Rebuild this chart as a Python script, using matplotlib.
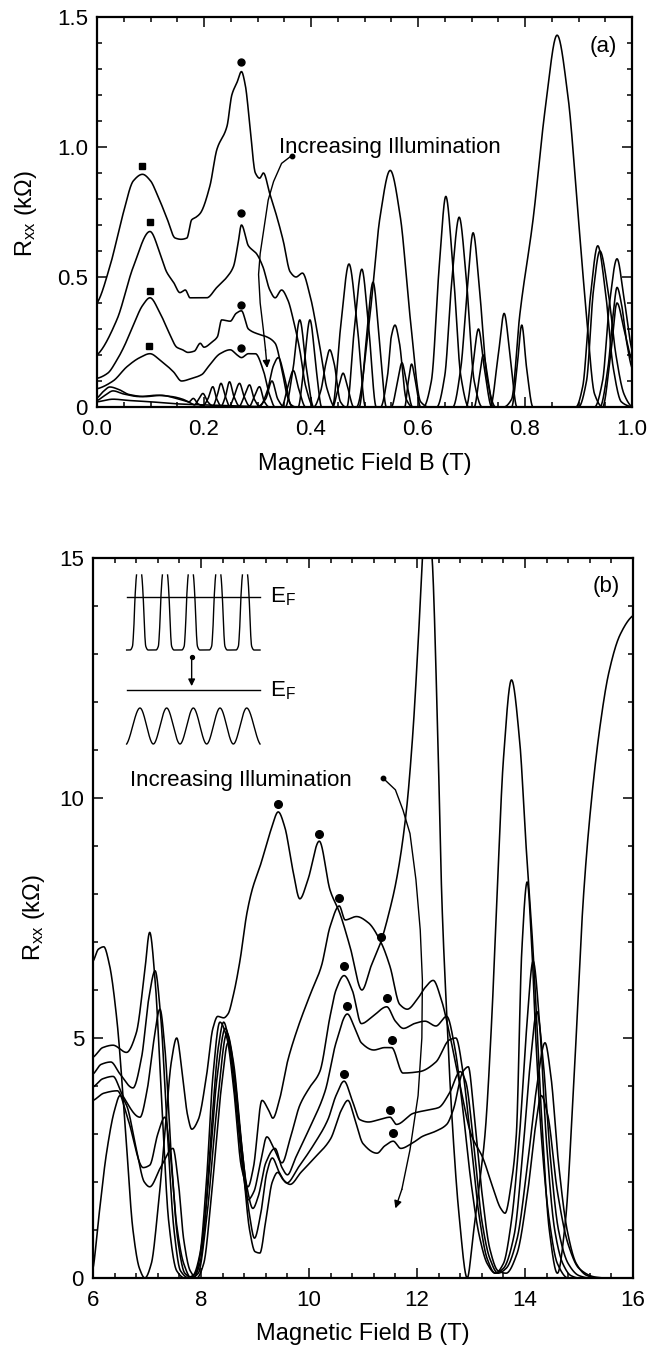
import numpy as np
import matplotlib
matplotlib.use("Agg")
import matplotlib.pyplot as plt
from matplotlib.ticker import MultipleLocator, FixedLocator, FixedFormatter

plt.rcParams['font.family'] = ['Liberation Sans', 'DejaVu Sans']
plt.rcParams['mathtext.fontset'] = 'custom'
plt.rcParams['mathtext.rm'] = 'Liberation Sans'
plt.rcParams['mathtext.it'] = 'Liberation Sans:italic'

# ---------------- DATA: panel (a)  (B in T, Rxx in kOhm) ----------------
a_curve1 = [(0.0,0.40),(0.024,0.54),(0.049,0.745),(0.068,0.87),(0.085,0.895),(0.1,0.87),(0.112,0.82),(0.13,0.73),
            (0.146,0.65),(0.157,0.645),(0.168,0.65),(0.177,0.72),(0.185,0.73),(0.193,0.745),(0.211,0.85),(0.224,0.99),
            (0.243,1.08),(0.252,1.2),(0.262,1.25),(0.27,1.29),(0.277,1.24),(0.285,1.1),(0.296,0.9),(0.304,0.88),
            (0.311,0.9),(0.323,0.82),(0.335,0.74),(0.348,0.64),(0.361,0.52),(0.372,0.50),(0.384,0.515),(0.398,0.43),
            (0.415,0.25),(0.43,0.07),(0.445,0.0),(0.485,0.0),(0.51,0.35),(0.529,0.73),(0.548,0.91),(0.567,0.73),
            (0.585,0.35),(0.605,0.02),(0.62,0.0),(0.76,0.0),(0.775,0.03),(0.79,0.35),(0.815,0.72),(0.838,1.15),
            (0.86,1.43),(0.88,1.2),(0.90,0.72),(0.915,0.35),(0.93,0.05),(0.945,0.0),(1.0,0.0)]
a_curve2 = [(0.0,0.20),(0.037,0.335),(0.068,0.54),(0.099,0.675),(0.118,0.59),(0.13,0.52),(0.143,0.48),(0.155,0.44),
            (0.165,0.45),(0.174,0.42),(0.19,0.42),(0.205,0.42),(0.224,0.46),(0.243,0.50),(0.255,0.54),(0.263,0.62),
            (0.27,0.70),(0.283,0.62),(0.298,0.59),(0.31,0.54),(0.323,0.45),(0.333,0.42),(0.345,0.45),(0.357,0.41),
            (0.367,0.335),(0.379,0.22),(0.39,0.08),(0.405,0.0),(0.44,0.0),(0.455,0.3),(0.471,0.55),(0.487,0.3),
            (0.502,0.0),(0.61,0.0),(0.625,0.1),(0.64,0.55),(0.652,0.81),(0.665,0.55),(0.68,0.12),(0.695,0.0),
            (0.895,0.0),(0.908,0.08),(0.922,0.42),(0.936,0.62),(0.95,0.45),(0.965,0.15),(0.98,0.02),(1.0,0.0)]
a_curve3 = [(0.0,0.11),(0.02,0.13),(0.037,0.18),(0.05,0.23),(0.067,0.31),(0.085,0.39),(0.099,0.42),(0.118,0.36),
            (0.136,0.28),(0.149,0.23),(0.16,0.22),(0.17,0.21),(0.182,0.215),(0.193,0.245),(0.2,0.23),(0.215,0.25),
            (0.225,0.27),(0.233,0.335),(0.249,0.33),(0.26,0.36),(0.27,0.37),(0.283,0.30),(0.302,0.28),(0.317,0.27),
            (0.333,0.245),(0.345,0.15),(0.356,0.04),(0.366,0.0),(0.376,0.0),(0.386,0.14),(0.398,0.335),(0.41,0.14),
            (0.42,0.0),(0.467,0.0),(0.481,0.3),(0.495,0.53),(0.508,0.3),(0.522,0.0),(0.635,0.0),(0.65,0.12),
            (0.663,0.48),(0.677,0.73),(0.69,0.5),(0.705,0.1),(0.72,0.0),(0.93,0.0),(0.945,0.1),(0.958,0.4),
            (0.972,0.57),(0.985,0.42),(1.0,0.22)]
a_curve4 = [(0.0,0.07),(0.03,0.10),(0.056,0.155),(0.08,0.19),(0.099,0.205),(0.118,0.18),(0.143,0.135),(0.158,0.10),
            (0.177,0.11),(0.196,0.125),(0.208,0.155),(0.23,0.205),(0.249,0.22),(0.262,0.20),(0.27,0.19),(0.283,0.205),
            (0.296,0.205),(0.311,0.14),(0.322,0.05),(0.333,0.0),(0.352,0.0),(0.366,0.14),(0.379,0.335),(0.392,0.14),
            (0.405,0.0),(0.49,0.0),(0.503,0.25),(0.516,0.48),(0.528,0.25),(0.541,0.0),(0.665,0.0),(0.68,0.15),
            (0.692,0.45),(0.703,0.67),(0.715,0.45),(0.73,0.1),(0.745,0.0),(0.9,0.0),(0.915,0.1),(0.928,0.45),
            (0.94,0.60),(0.955,0.45),(0.97,0.2),(0.985,0.05),(1.0,0.0)]
a_curve5 = [(0.0,0.035),(0.012,0.06),(0.024,0.077),(0.04,0.068),(0.06,0.048),(0.09,0.04),(0.12,0.045),(0.145,0.035),
            (0.162,0.025),(0.172,0.02),(0.18,0.033),(0.189,0.012),(0.198,0.005),(0.207,0.03),(0.2165,0.078),(0.224,0.03),
            (0.232,0.004),(0.24,0.04),(0.2477,0.097),(0.256,0.04),(0.266,0.004),(0.275,0.04),(0.2851,0.085),(0.294,0.03),
            (0.304,0.003),(0.318,0.06),(0.33,0.16),(0.339,0.19),(0.35,0.12),(0.362,0.01),(0.372,0.0),(0.405,0.0),
            (0.418,0.06),(0.428,0.17),(0.435,0.22),(0.443,0.17),(0.455,0.02),(0.465,0.0),(0.53,0.0),(0.543,0.12),
            (0.55,0.27),(0.557,0.315),(0.565,0.25),(0.578,0.03),(0.59,0.0),(0.69,0.0),(0.702,0.15),(0.713,0.30),
            (0.724,0.15),(0.738,0.0),(0.94,0.0),(0.955,0.15),(0.965,0.36),(0.972,0.46),(0.98,0.4),(0.99,0.25),(1.0,0.15)]
a_curve6 = [(0.0,0.025),(0.015,0.045),(0.03,0.062),(0.05,0.05),(0.08,0.04),(0.11,0.045),(0.14,0.04),(0.16,0.03),
            (0.175,0.015),(0.182,0.008),(0.19,0.03),(0.198,0.052),(0.207,0.02),(0.2165,0.004),(0.224,0.04),(0.2318,0.091),
            (0.24,0.04),(0.2477,0.004),(0.256,0.04),(0.2664,0.091),(0.275,0.04),(0.2851,0.004),(0.294,0.04),(0.3037,0.078),
            (0.313,0.02),(0.322,0.0),(0.345,0.0),(0.357,0.08),(0.367,0.14),(0.377,0.07),(0.39,0.0),(0.44,0.0),
            (0.452,0.08),(0.46,0.13),(0.468,0.08),(0.48,0.0),(0.55,0.0),(0.562,0.1),(0.57,0.17),(0.578,0.1),(0.59,0.0),
            (0.735,0.0),(0.75,0.2),(0.761,0.36),(0.772,0.2),(0.785,0.0),(0.945,0.0),(0.96,0.2),(0.972,0.40),(0.985,0.3),(1.0,0.18)]
a_curve7 = [(0.0,0.02),(0.03,0.03),(0.06,0.025),(0.1,0.02),(0.15,0.012),(0.2,0.008),(0.25,0.005),(0.3,0.002),
            (0.315,0.03),(0.327,0.10),(0.338,0.03),(0.35,0.0),(0.575,0.0),(0.582,0.1),(0.588,0.165),(0.595,0.1),
            (0.605,0.0),(0.705,0.0),(0.715,0.12),(0.722,0.20),(0.73,0.12),(0.74,0.0),(0.775,0.0),(0.785,0.15),
            (0.794,0.315),(0.803,0.15),(0.815,0.0),(1.0,0.0)]
a_curves = [a_curve1, a_curve2, a_curve3, a_curve4, a_curve5, a_curve6, a_curve7]

a_square_B = [0.085, 0.099, 0.099, 0.098]
a_square_R = [0.928, 0.713, 0.445, 0.236]
a_circle_B = [0.270, 0.270, 0.269, 0.269]
a_circle_R = [1.328, 0.747, 0.391, 0.228]

# ---------------- DATA: panel (b) ----------------
b_curve1 = [(6.0,6.6),(6.1,6.85),(6.2,6.9),(6.3,6.55),(6.44,5.4),(6.6,3.1),(6.74,1.0),(6.86,0.2),(6.96,0.0),(7.08,0.3),
            (7.2,1.4),(7.33,3.0),(7.45,4.5),(7.55,5.0),(7.65,4.3),(7.75,3.4),(7.83,3.1),(7.95,3.3),(8.1,4.2),(8.22,5.2),
            (8.31,5.45),(8.42,5.42),(8.5,5.5),(8.6,5.9),(8.72,6.6),(8.85,7.6),(8.95,8.1),(9.1,8.6),(9.3,9.35),(9.43,9.71),
            (9.55,9.4),(9.7,8.5),(9.83,7.9),(9.98,8.3),(10.19,9.1),(10.39,8.08),(10.57,7.6),(10.76,6.9),(10.98,6.0),
            (11.15,6.5),(11.33,7.0),(11.48,7.6),(11.62,8.3),(11.8,9.7),(11.92,11.3),(12.02,13.2),(12.12,15.3),(12.2,16.0),
            (12.28,15.0),(12.38,11.5),(12.46,7.9),(12.55,5.5),(12.65,3.3),(12.78,1.3),(12.93,0.0),(13.04,0.9),(13.15,1.9),
            (13.26,3.0),(13.38,5.3),(13.48,7.9),(13.6,10.8),(13.75,12.46),(13.9,11.2),(14.02,9.0),(14.15,6.8),(14.3,3.5),
            (14.45,1.0),(14.6,0.1),(14.75,1.2),(14.9,4.0),(15.08,7.9),(15.2,9.6),(15.39,11.5),(15.55,12.6),(15.76,13.4),(16.0,13.8)]
b_curve2 = [(6.0,4.6),(6.18,4.8),(6.37,4.85),(6.62,4.7),(6.8,5.1),(6.95,6.3),(7.05,7.2),(7.15,6.2),(7.28,3.5),(7.4,1.2),
            (7.55,0.15),(7.7,0.0),(7.85,0.05),(7.98,0.5),(8.1,2.0),(8.22,4.2),(8.35,5.33),(8.48,5.0),(8.6,4.0),(8.75,2.3),
            (8.87,1.9),(8.97,2.3),(9.13,3.7),(9.25,3.5),(9.33,3.33),(9.45,3.7),(9.6,4.5),(9.78,5.17),(10.02,5.9),(10.23,6.5),
            (10.39,7.32),(10.56,7.75),(10.67,7.46),(10.88,7.53),(11.1,7.4),(11.33,7.0),(11.5,6.49),(11.68,5.7),(11.82,5.6),
            (12.0,5.8),(12.15,6.05),(12.3,6.2),(12.45,5.8),(12.6,5.1),(12.8,4.0),(13.0,3.0),(13.22,2.5),(13.4,1.9),
            (13.55,1.45),(13.63,1.35),(13.75,2.0),(13.84,3.0),(13.94,6.8),(14.04,8.25),(14.13,6.8),(14.2,5.0),(14.3,3.0),
            (14.45,1.2),(14.6,0.3),(14.8,0.0),(16.0,0.0)]
b_curve3 = [(6.0,4.25),(6.15,4.45),(6.33,4.5),(6.5,4.25),(6.74,3.96),(6.9,4.6),(7.03,5.8),(7.15,6.4),(7.25,5.5),(7.38,3.0),
            (7.5,1.0),(7.62,0.15),(7.78,0.0),(7.9,0.1),(8.05,1.0),(8.2,3.2),(8.32,4.8),(8.42,5.33),(8.52,4.9),(8.65,3.6),
            (8.78,2.2),(8.87,1.63),(8.98,1.8),(9.1,2.4),(9.22,2.94),(9.35,2.7),(9.5,2.4),(9.65,2.9),(9.83,3.6),(10.0,3.95),
            (10.2,4.3),(10.39,5.45),(10.5,6.0),(10.65,6.3),(10.8,6.0),(10.97,5.3),(11.18,5.45),(11.44,5.65),(11.6,5.35),
            (11.75,5.2),(11.95,5.3),(12.15,5.35),(12.35,5.25),(12.55,5.45),(12.7,4.8),(12.85,3.5),(13.0,2.0),(13.15,0.9),
            (13.3,0.3),(13.45,0.1),(13.6,0.3),(13.75,1.2),(13.9,3.0),(14.03,5.2),(14.15,6.6),(14.27,5.3),(14.4,2.8),
            (14.55,1.0),(14.7,0.3),(14.85,0.05),(15.0,0.0),(16.0,0.0)]
b_curve4 = [(6.0,3.98),(6.18,4.15),(6.37,4.2),(6.55,3.8),(6.87,3.35),(7.0,3.9),(7.12,4.9),(7.24,5.6),(7.33,4.8),(7.45,2.5),
            (7.57,0.8),(7.7,0.1),(7.85,0.0),(7.98,0.3),(8.12,1.8),(8.3,4.2),(8.45,5.2),(8.55,4.8),(8.7,3.3),(8.85,1.9),
            (8.96,1.45),(9.06,1.7),(9.2,2.4),(9.37,2.7),(9.5,2.3),(9.6,2.15),(9.75,2.5),(10.0,3.1),(10.3,3.9),(10.5,4.9),
            (10.71,5.5),(10.85,5.2),(10.97,4.9),(11.2,4.75),(11.4,4.8),(11.53,4.8),(11.74,4.27),(12.05,4.3),(12.35,4.5),
            (12.6,4.96),(12.72,5.0),(12.85,4.3),(13.0,2.8),(13.15,1.3),(13.3,0.4),(13.45,0.1),(13.6,0.2),(13.8,0.9),
            (13.95,2.5),(14.1,4.5),(14.22,5.55),(14.33,4.6),(14.47,2.5),(14.62,1.0),(14.8,0.3),(15.0,0.05),(15.2,0.0),(16.0,0.0)]
b_curve5 = [(6.0,3.7),(6.2,3.85),(6.45,3.9),(6.65,3.3),(6.93,2.3),(7.05,2.35),(7.2,3.0),(7.33,3.35),(7.43,2.6),(7.55,1.1),
            (7.68,0.3),(7.82,0.0),(7.95,0.1),(8.1,1.2),(8.3,3.6),(8.48,5.1),(8.6,4.5),(8.75,2.8),(8.9,1.3),(8.99,0.83),
            (9.1,1.3),(9.22,2.2),(9.32,2.5),(9.45,2.2),(9.59,1.98),(9.8,2.3),(10.1,2.8),(10.35,3.3),(10.5,3.8),(10.65,4.1),
            (10.8,3.7),(10.94,3.3),(11.1,3.25),(11.3,3.3),(11.5,3.35),(11.62,3.2),(11.93,3.43),(12.2,3.5),(12.4,3.55),
            (12.6,3.85),(12.8,4.3),(12.9,4.1),(13.05,2.8),(13.2,1.2),(13.35,0.4),(13.5,0.1),(13.65,0.2),(13.85,0.8),
            (14.05,2.4),(14.22,4.0),(14.37,4.9),(14.48,4.2),(14.62,2.4),(14.78,1.0),(14.95,0.3),(15.15,0.05),(15.35,0.0),(16.0,0.0)]
b_curve6 = [(6.0,0.2),(6.1,1.2),(6.25,2.6),(6.4,3.5),(6.5,3.8),(6.62,3.6),(6.8,2.7),(6.95,2.0),(7.05,1.9),(7.25,2.3),
            (7.48,2.7),(7.58,2.0),(7.68,0.8),(7.8,0.15),(7.92,0.0),(8.05,0.3),(8.2,1.8),(8.38,4.0),(8.5,4.9),(8.62,4.2),
            (8.78,2.3),(8.9,1.0),(9.0,0.55),(9.09,0.52),(9.2,1.2),(9.32,2.0),(9.42,2.2),(9.52,2.05),(9.65,1.95),(9.85,2.2),
            (10.1,2.5),(10.4,2.9),(10.6,3.5),(10.72,3.7),(10.85,3.3),(11.0,2.8),(11.26,2.6),(11.4,2.75),(11.56,2.85),
            (11.7,2.7),(11.9,2.8),(12.1,2.95),(12.35,3.06),(12.55,3.2),(12.67,3.5),(12.85,4.3),(12.95,4.4),(13.05,3.5),
            (13.2,1.8),(13.35,0.6),(13.5,0.15),(13.65,0.1),(13.85,0.5),(14.05,1.8),(14.2,3.2),(14.3,3.8),(14.42,3.4),
            (14.6,1.8),(14.8,0.7),(15.0,0.2),(15.3,0.02),(15.5,0.0),(16.0,0.0)]
b_curves = [b_curve1, b_curve2, b_curve3, b_curve4, b_curve5, b_curve6]

b_circle_B = [9.43, 10.19, 10.56, 11.34, 10.65, 11.44, 10.71, 11.53, 10.65, 11.5, 11.56]
b_circle_R = [9.875, 9.26, 7.91, 7.11, 6.49, 5.83, 5.67, 4.96, 4.25, 3.5, 3.03]

a_xticks = [0.0, 0.2, 0.4, 0.6, 0.8, 1.0]
a_xlabels = ['0.0', '0.2', '0.4', '0.6', '0.8', '1.0']
a_yticks = [0, 0.5, 1.0, 1.5]
a_ylabels = ['0', '0.5', '1.0', '1.5']
b_xticks = [6, 8, 10, 12, 14, 16]
b_xlabels = ['6', '8', '10', '12', '14', '16']
b_yticks = [0, 5, 10, 15]
b_ylabels = ['0', '5', '10', '15']

# schematic inset (panel b, drawn in data coords)
sch_peak_B = [6.854, 7.333, 7.811, 8.32, 8.815]
sch_wave_B = [6.623, 6.87, 7.117, 7.364, 7.611, 7.858, 8.105, 8.352, 8.599, 8.846, 9.093]
sch_wave_R = [11.125, 11.875, 11.125, 11.875, 11.125, 11.875, 11.125, 11.875, 11.125, 11.875, 11.125]


def pchip(pts, n=4000):
    x, y = np.asarray(pts, float).T
    h = np.diff(x)
    d = np.diff(y) / h
    m = np.zeros_like(x)
    for k in range(1, len(x) - 1):
        if d[k - 1] * d[k] > 0:
            w1 = 2 * h[k] + h[k - 1]
            w2 = h[k] + 2 * h[k - 1]
            m[k] = (w1 + w2) / (w1 / d[k - 1] + w2 / d[k])
    m[0] = d[0] * 0.5
    m[-1] = d[-1] * 0.5
    xs = np.linspace(x[0], x[-1], n)
    i = np.clip(np.searchsorted(x, xs) - 1, 0, len(x) - 2)
    t = (xs - x[i]) / h[i]
    h00 = 2 * t**3 - 3 * t**2 + 1
    h10 = t**3 - 2 * t**2 + t
    h01 = -2 * t**3 + 3 * t**2
    h11 = t**3 - t**2
    ys = h00 * y[i] + h10 * h[i] * m[i] + h01 * y[i + 1] + h11 * h[i] * m[i + 1]
    return xs, ys


LW = 1.15
TICK_FS = 16
LABEL_FS = 17
NOTE_FS = 16
fig = plt.figure(figsize=(6.68, 13.53), dpi=100)
ax1 = fig.add_axes([97 / 668, 1 - 407 / 1353, 535 / 668, 390 / 1353])
ax2 = fig.add_axes([93 / 668, 1 - 1278 / 1353, 540 / 668, 720 / 1353])


def style(ax, xt, xl, yt, yl, xminor, yminor, xlim, ylim):
    ax.set_xlim(*xlim)
    ax.set_ylim(*ylim)
    ax.xaxis.set_major_locator(FixedLocator(xt))
    ax.xaxis.set_major_formatter(FixedFormatter(xl))
    ax.yaxis.set_major_locator(FixedLocator(yt))
    ax.yaxis.set_major_formatter(FixedFormatter(yl))
    ax.xaxis.set_minor_locator(MultipleLocator(xminor))
    ax.yaxis.set_minor_locator(MultipleLocator(yminor))
    for s in ax.spines.values():
        s.set_linewidth(1.6)
    ax.tick_params(which='both', direction='in', top=True, right=True, width=1.1, labelsize=TICK_FS)
    ax.tick_params(which='major', length=7)
    ax.tick_params(which='minor', length=3.8)
    ax.tick_params(axis='x', which='both', pad=8.5)
    ax.tick_params(axis='y', which='both', pad=6.5)


style(ax1, a_xticks, a_xlabels, a_yticks, a_ylabels, 0.05, 0.1, (0, 1), (0, 1.5))
style(ax2, b_xticks, b_xlabels, b_yticks, b_ylabels, 0.4, 1.0, (6, 16), (0, 15))

for c in a_curves:
    xs, ys = pchip(c)
    ax1.plot(xs, ys, color='k', lw=LW)
ax1.plot(a_square_B, a_square_R, ls='none', marker='s', ms=5, color='k')
ax1.plot(a_circle_B, a_circle_R, ls='none', marker='o', ms=5, color='k')

for c in b_curves:
    xs, ys = pchip(c)
    ax2.plot(xs, ys, color='k', lw=LW)
ax2.plot(b_circle_B, b_circle_R, ls='none', marker='o', ms=5.5, color='k')

# labels
ylab = r'R$_{\mathrm{xx}}$ (kΩ)'
ax1.set_ylabel(ylab, fontsize=LABEL_FS)
ax2.set_ylabel(ylab, fontsize=LABEL_FS)
ax1.yaxis.set_label_coords(-0.108, 0.497)
ax2.yaxis.set_label_coords(-0.086, 0.5)
ax1.set_xlabel('Magnetic Field B (T)', fontsize=LABEL_FS)
ax2.set_xlabel('Magnetic Field B (T)', fontsize=LABEL_FS)
ax1.xaxis.set_label_coords(0.5, -0.117)
ax2.xaxis.set_label_coords(0.5, -0.063)

ax1.text(0.946, 1.385, '(a)', fontsize=NOTE_FS, ha='center', va='center')
ax2.text(15.51, 14.4, '(b)', fontsize=NOTE_FS, ha='center', va='center')

# annotation arrows
ax1.text(0.34, 0.975, 'Increasing Illumination', fontsize=NOTE_FS, ha='left', va='baseline')
arr_a = [(0.364, 0.967), (0.345, 0.937), (0.33, 0.867), (0.32, 0.796), (0.305, 0.59), (0.302, 0.51),
         (0.305, 0.40), (0.311, 0.296), (0.315, 0.22)]
xa, ya = np.array(arr_a).T
ax1.plot(xa, ya, color='k', lw=1.0)
ax1.plot([xa[0]], [ya[0]], marker='o', ms=3.2, color='k')
ax1.annotate('', xy=(0.318, 0.15), xytext=(xa[-1], ya[-1]),
             arrowprops=dict(arrowstyle='-|>', color='k', lw=1.0, mutation_scale=11, shrinkA=0, shrinkB=0))

ax2.text(6.685, 10.25, 'Increasing Illumination', fontsize=NOTE_FS, ha='left', va='baseline')
arr_b = [(11.375, 10.41), (11.6, 10.17), (11.74, 9.75), (11.87, 9.26), (11.98, 8.3), (12.06, 7.25),
         (12.1, 6.2), (12.09, 5.0), (12.02, 3.8), (11.87, 2.67), (11.72, 1.85)]
xb, yb = np.array(arr_b).T
ax2.plot(xb, yb, color='k', lw=1.0)
ax2.plot([xb[0]], [yb[0]], marker='o', ms=3.2, color='k')
ax2.annotate('', xy=(11.6, 1.45), xytext=(xb[-1], yb[-1]),
             arrowprops=dict(arrowstyle='-|>', color='k', lw=1.0, mutation_scale=11, shrinkA=0, shrinkB=0))

# schematic inset
base, top = 13.083, 14.646
hgt = top - base
hw = 0.048
pieces = []
s = sch_peak_B[0] - hw
pieces.append([(6.623, base), (s - 0.12, base), (s - 0.075, base + 0.05 * hgt), (s - 0.05, base + 0.3 * hgt),
               (s - 0.028, base + 0.7 * hgt), (s, top)])
for k in range(len(sch_peak_B) - 1):
    l = sch_peak_B[k] + hw
    r = sch_peak_B[k + 1] - hw
    pieces.append([(l, top), (l + 0.028, base + 0.7 * hgt), (l + 0.05, base + 0.3 * hgt), (l + 0.075, base + 0.05 * hgt),
                   (l + 0.12, base), (r - 0.12, base), (r - 0.075, base + 0.05 * hgt), (r - 0.05, base + 0.3 * hgt),
                   (r - 0.028, base + 0.7 * hgt), (r, top)])
l = sch_peak_B[-1] + hw
pieces.append([(l, top), (l + 0.028, base + 0.7 * hgt), (l + 0.05, base + 0.3 * hgt), (l + 0.075, base + 0.05 * hgt),
               (l + 0.12, base), (9.093, base)])
for p in pieces:
    xs, ys = pchip(p, 400)
    ax2.plot(xs, ys, color='k', lw=1.0)
xs, ys = pchip(list(zip(sch_wave_B, sch_wave_R)), 800)
ax2.plot(xs, ys, color='k', lw=1.0)
ax2.plot([6.623, 9.093], [14.19, 14.19], color='k', lw=1.0)
ax2.plot([6.623, 9.093], [12.24, 12.24], color='k', lw=1.0)
ax2.text(9.28, 14.19, r'E$_{\mathrm{F}}$', fontsize=NOTE_FS, ha='left', va='center')
ax2.text(9.28, 12.24, r'E$_{\mathrm{F}}$', fontsize=NOTE_FS, ha='left', va='center')
ax2.plot([7.827], [12.94], marker='o', ms=2.8, color='k')
ax2.annotate('', xy=(7.827, 12.33), xytext=(7.827, 12.94),
             arrowprops=dict(arrowstyle='-|>', color='k', lw=1.0, mutation_scale=10, shrinkA=0, shrinkB=0))

fig.savefig('out.png', dpi=100)
